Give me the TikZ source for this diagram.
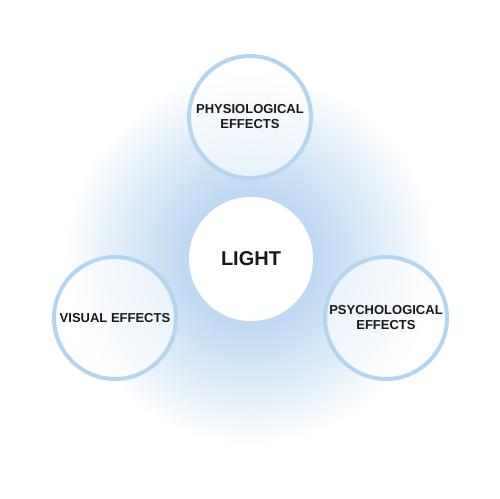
\documentclass[tikz,border=0pt]{standalone}
\usepackage{fontspec}
\setmainfont{Liberation Sans}
\definecolor{ringblue}{RGB}{182,214,240}
\definecolor{glowblue}{RGB}{192,218,243}
\pgfdeclareradialshading{glow}{\pgfpoint{0bp}{0bp}}{%
  color(0bp)=(glowblue); color(9bp)=(glowblue); color(17bp)=(glowblue!55);
  color(25bp)=(white); color(50bp)=(white)}
\begin{document}
\begin{tikzpicture}[x=0.5pt, y=0.5pt,
  effect/.style = {shape=circle, draw=ringblue, line width=2pt,
    fill=white, fill opacity=0.6, text opacity=1,
    minimum size=61pt, inner sep=0pt, align=center,
    font=\bfseries\fontsize{6.5}{7.5}\selectfont, text=black!90},
  core/.style = {shape=circle, fill=white, minimum size=62pt,
    inner sep=0pt, font=\bfseries\fontsize{10}{12}\selectfont, text=black!90}]
 \useasboundingbox (0,0) rectangle (500,499);
 % soft light behind the circles
 \shade[shading=glow] (250,240) circle (93pt);
 \node[core] (light) at (251,240) {LIGHT};
 \node[effect] (physio) at (250,382) {PHYSIOLOGICAL\\EFFECTS};
 \node[effect] (visual) at (115,181) {VISUAL EFFECTS};
 \node[effect] (psycho) at (386,181) {PSYCHOLOGICAL\\EFFECTS};
\end{tikzpicture}
\end{document}
